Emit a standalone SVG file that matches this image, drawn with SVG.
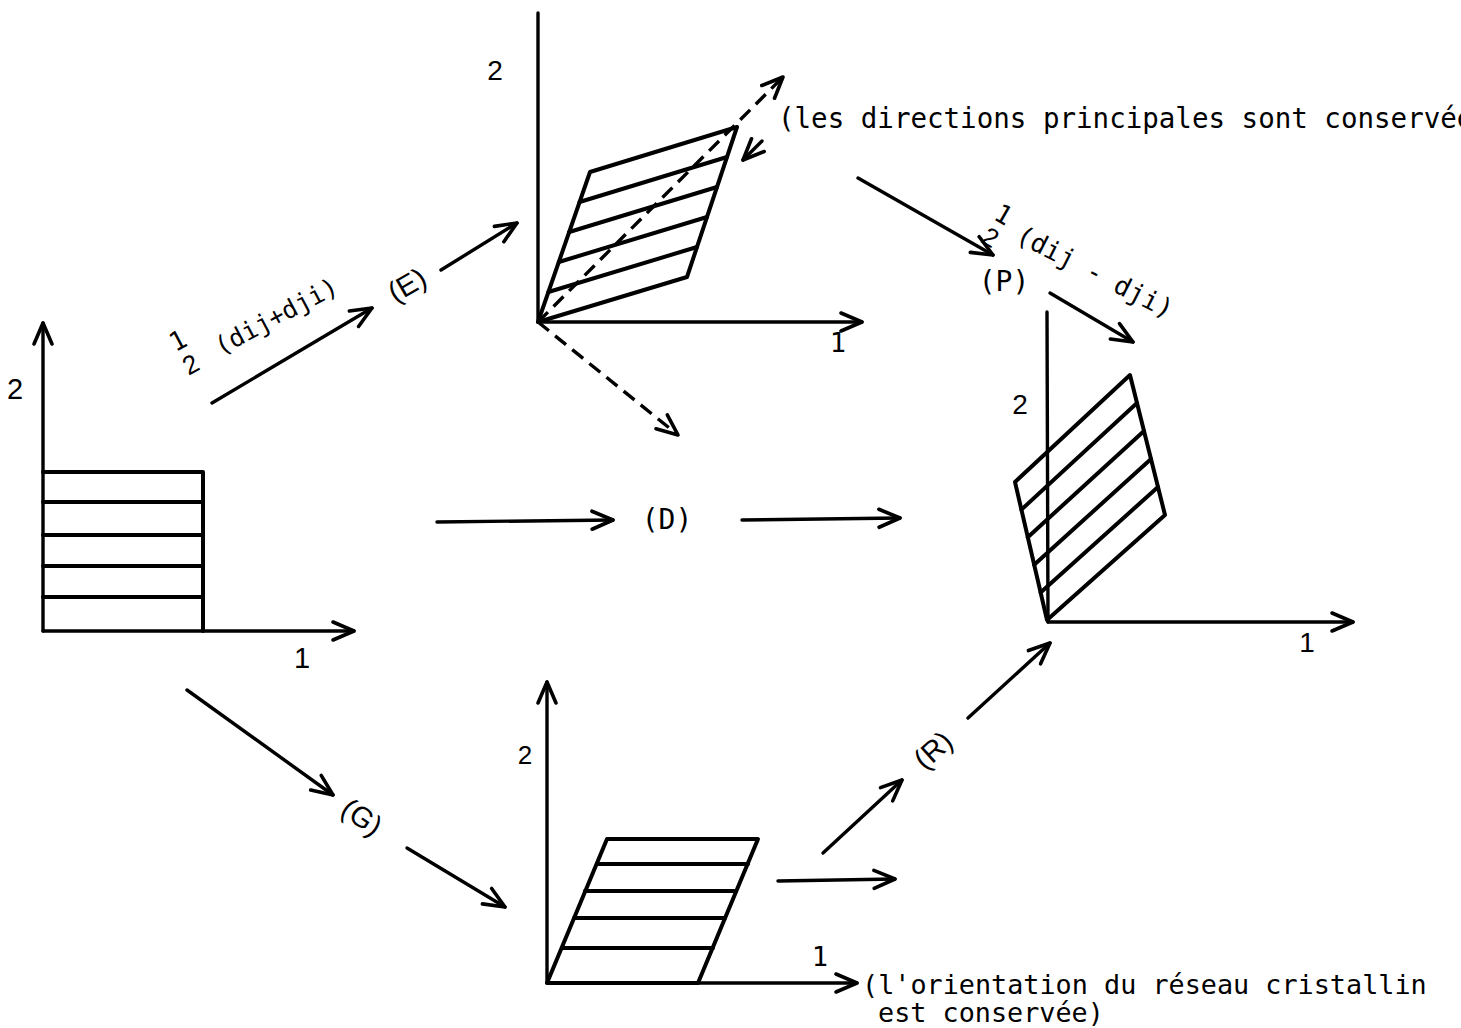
<svg xmlns="http://www.w3.org/2000/svg" width="1461" height="1028" viewBox="0 0 1461 1028">
<defs>
<style>
.ln{fill:none;stroke:#000;stroke-width:3.4;stroke-linecap:round;stroke-linejoin:round}
.th{fill:none;stroke:#000;stroke-width:4;stroke-linecap:round;stroke-linejoin:round}
.ds{fill:none;stroke:#000;stroke-width:3.4;stroke-dasharray:14 8}
.ar{marker-end:url(#ah)}
.mono{font-family:"DejaVu Sans Mono","Liberation Mono",monospace;fill:#000}
.sans{font-family:"Liberation Sans","DejaVu Sans",sans-serif;fill:#000}
</style>
<marker id="ah" markerUnits="userSpaceOnUse" markerWidth="30" markerHeight="24" viewBox="-26 -12 30 24" refX="0" refY="0" orient="auto" overflow="visible">
<path d="M-21,-9 L0,0 L-21,9" fill="none" stroke="#000" stroke-width="3.6" stroke-linecap="round" stroke-linejoin="round"/>
</marker>
</defs>
<rect width="1461" height="1028" fill="#fff"/>

<g id="state-initial">
<line class="ln ar" x1="43" y1="631" x2="43" y2="323"/>
<line class="ln ar" x1="43" y1="631" x2="354" y2="631"/>
<path class="th" d="M43,472 H203 V631 M43,502 H203 M43,535 H203 M43,566 H203 M43,597 H203"/>
<text class="sans" x="15" y="399" font-size="29" text-anchor="middle">2</text>
<text class="sans" x="302" y="668" font-size="29" text-anchor="middle">1</text>
</g>

<g id="state-E">
<line class="ln" x1="538" y1="322" x2="538" y2="13"/>
<line class="ln ar" x1="538" y1="322" x2="862" y2="322"/>
<polygon class="th" points="538,322 687,277 737,127 590,172"/>
<path class="th" d="M579.6,202 L727,157 M569.2,232 L717,187 M558.8,262 L707,217 M548.4,292 L697,247"/>
<line class="ds ar" x1="538" y1="322" x2="783" y2="77"/>
<line class="ds ar" x1="538" y1="322" x2="678" y2="435"/>
<line class="ln ar" x1="762" y1="141" x2="743" y2="160"/>
<text class="sans" x="495" y="80" font-size="28" text-anchor="middle">2</text>
<text class="mono" x="838" y="352" font-size="27" text-anchor="middle">1</text>
</g>

<g id="state-final">
<line class="ln" x1="1048" y1="622" x2="1047" y2="312"/>
<line class="ln ar" x1="1048" y1="622" x2="1353" y2="622"/>
<polygon class="th" points="1047,620 1015,482 1130,375 1165,515"/>
<path class="th" d="M1021.4,509.6 L1137,403 M1027.8,537.2 L1144,431 M1034.2,564.8 L1151,459 M1040.6,592.4 L1158,487"/>
<text class="sans" x="1020" y="414" font-size="28" text-anchor="middle">2</text>
<text class="sans" x="1307" y="652" font-size="28" text-anchor="middle">1</text>
</g>

<g id="state-G">
<line class="ln ar" x1="547" y1="983" x2="547" y2="682"/>
<line class="ln ar" x1="547" y1="983" x2="857" y2="983"/>
<polygon class="th" points="547,983 698,983 758,839 607,839"/>
<path class="th" d="M597,864 H748 M585,891 H736 M574,918 H725 M562,948 H713"/>
<text class="sans" x="525" y="764" font-size="26" text-anchor="middle">2</text>
<text class="mono" x="820" y="966" font-size="27" text-anchor="middle">1</text>
</g>

<g id="connectors">
<line class="ln ar" x1="212" y1="403" x2="372" y2="308"/>
<line class="ln ar" x1="441" y1="270" x2="517" y2="223"/>
<line class="ln ar" x1="437" y1="522" x2="613" y2="520"/>
<line class="ln ar" x1="742" y1="520" x2="900" y2="518"/>
<line class="ln ar" x1="858" y1="178" x2="993" y2="255"/>
<line class="ln ar" x1="1050" y1="293" x2="1133" y2="342"/>
<line class="ln ar" x1="187" y1="690" x2="333" y2="795"/>
<line class="ln ar" x1="407" y1="848" x2="505" y2="907"/>
<line class="ln ar" x1="823" y1="853" x2="902" y2="780"/>
<line class="ln ar" x1="968" y1="718" x2="1050" y2="643"/>
<line class="ln ar" x1="778" y1="881" x2="895" y2="879"/>
</g>

<g id="label-E-formula">
<g transform="translate(184,352) rotate(-28)">
<text class="mono" x="0" y="-4" font-size="26" text-anchor="middle">1</text>
<text class="sans" x="0" y="23" font-size="26" text-anchor="middle">2</text>
</g>
<text class="mono" transform="translate(276,316) rotate(-28)" x="0" y="9" font-size="25" text-anchor="middle">(dij+dji)</text>
</g>
<g id="label-E"><text class="sans" transform="translate(407,285) rotate(-30)" x="0" y="10" font-size="29" text-anchor="middle">(E)</text></g>
<g id="label-D"><text class="mono" x="667" y="529" font-size="28" text-anchor="middle">(D)</text></g>
<g id="label-P"><text class="mono" x="1004" y="291" font-size="28" text-anchor="middle">(P)</text></g>
<g id="label-P-formula">
<g transform="translate(997,226) rotate(30)">
<text class="mono" x="0" y="-4" font-size="26" text-anchor="middle">1</text>
<text class="sans" x="0" y="22" font-size="26" text-anchor="middle">2</text>
</g>
<text class="mono" transform="translate(1095,272) rotate(27)" x="0" y="9" font-size="26" text-anchor="middle">(dij - dji)</text>
</g>
<g id="label-G"><text class="sans" transform="translate(362,817) rotate(35)" x="0" y="10" font-size="29" text-anchor="middle">(G)</text></g>
<g id="label-R"><text class="sans" transform="translate(933,750) rotate(-42)" x="0" y="10" font-size="29" text-anchor="middle">(R)</text></g>
<g id="note-top"><text class="mono" x="778" y="128" font-size="27.5">(les directions principales sont conservée</text></g>
<g id="note-bottom">
<text class="mono" x="862" y="994" font-size="26.8">(l'orientation du réseau cristallin</text>
<text class="mono" x="878" y="1022" font-size="26.8">est conservée)</text>
</g>
</svg>
